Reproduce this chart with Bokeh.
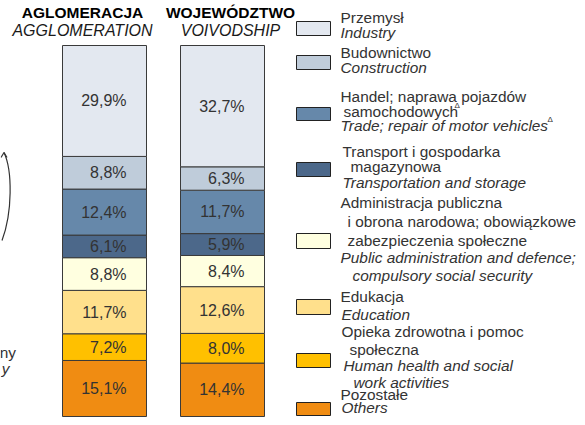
from bokeh.plotting import figure
from bokeh.models import Range1d
from bokeh.embed import file_html
from bokeh.resources import INLINE
from bokeh.core.properties import value

# ---------------- data ----------------
regions_pl = ["AGLOMERACJA", "WOJEWÓDZTWO"]
regions_en = ["AGGLOMERATION", "VOIVODSHIP"]

industry = [29.9, 32.7]
construction = [8.8, 6.3]
trade = [12.4, 11.7]
transport = [6.1, 5.9]
public_admin = [8.8, 8.4]
education = [11.7, 12.6]
health = [7.2, 8.0]
others = [15.1, 14.4]

# top-to-bottom order of the stack
series = [industry, construction, trade, transport, public_admin, education, health, others]
colors = ["#E3E8F0", "#BFCCDA", "#6688AA", "#4C688A", "#FFFFE0", "#FFE08C", "#FFC000", "#F08C12"]

legend_lines = [
    [("Przemysł", "normal", 0), ("Industry", "italic", 0)],
    [("Budownictwo", "normal", 0), ("Construction", "italic", 0)],
    [("Handel; naprawa pojazdów", "normal", 0), ("samochodowych", "normal", 3),
     ("Trade; repair of motor vehicles", "italic", 0)],
    [("Transport i gospodarka", "normal", 2), ("magazynowa", "normal", 10),
     ("Transportation and storage", "italic", 2)],
    [("Administracja publiczna", "normal", 0), ("i obrona narodowa; obowiązkowe", "normal", 7),
     ("zabezpieczenia społeczne", "normal", 7), ("Public administration and defence;", "italic", 0),
     ("compulsory social security", "italic", 12)],
    [("Edukacja", "normal", 0), ("Education", "italic", 1)],
    [("Opieka zdrowotna i pomoc", "normal", 1), ("społeczna", "normal", 9),
     ("Human health and social", "italic", 3), ("work activities", "italic", 13)],
    [("Pozostałe", "normal", 0), ("Others", "italic", 1)],
]
# ---------------- layout ----------------
W, H = 577, 417
FONT = "Liberation Sans"
BAR_TOP_PX, BAR_BOT_PX = 45.0, 416.0
SCALE = (BAR_BOT_PX - BAR_TOP_PX) / 100.0


def py(pix_y):
    return (BAR_BOT_PX - pix_y) / SCALE


p = figure(width=W, height=H, output_backend="svg", toolbar_location=None,
           x_axis_type=None, y_axis_type=None,
           x_range=Range1d(0, W), y_range=Range1d(py(H), py(0)),
           min_border=0, min_border_left=0, min_border_right=0,
           min_border_top=0, min_border_bottom=0)
p.outline_line_color = None
p.grid.visible = False
p.background_fill_color = "white"
p.border_fill_color = "white"

bar_x = [104, 222]
bar_w = 84

# stacked bars, bottom -> top
bottoms = [0.0, 0.0]
label_info = []
for vals, col in reversed(list(zip(series, colors))):
    tops = [b + v for b, v in zip(bottoms, vals)]
    p.vbar(x=bar_x, width=bar_w, bottom=bottoms, top=tops, fill_color=col,
           line_color="#3a3a3a", line_width=1)
    for i in range(2):
        label_info.append((bar_x[i] + 22, (bottoms[i] + tops[i]) / 2.0,
                           ("%.1f%%" % vals[i]).replace(".", ",")))
    bottoms = tops

p.text(x=[l[0] for l in label_info], y=[l[1] for l in label_info],
       text=[l[2] for l in label_info], text_align="right", text_baseline="middle",
       y_offset=0, text_font=value(FONT), text_font_size="16px", text_color="#333333")

# headers
hx = [82, 230]
p.text(x=hx, y=[py(12)] * 2, text=regions_pl, text_align="center", text_baseline="middle",
       text_font=value(FONT), text_font_size="15.5px", text_font_style="bold", text_color="#000000")
p.text(x=hx, y=[py(30)] * 2, text=regions_en, text_align="center", text_baseline="middle",
       text_font=value(FONT), text_font_size="16px", text_font_style="italic", text_color="#1a1a1a")

# legend
box_rows = [(21, 35), (55, 69), (107, 120), (162, 176), (233, 248), (299, 314), (353, 367), (402, 415)]
line_mid = [[17, 32], [52, 67], [96, 111, 125], [151, 166, 182],
            [202, 221, 240, 257, 275], [296, 314], [331, 349, 365, 382], [394, 407]]
for (t, b), col in zip(box_rows, colors):
    p.quad(left=296, right=330, top=py(t), bottom=py(b), fill_color=col,
           line_color="#222222", line_width=1)

for lines, mids in zip(legend_lines, line_mid):
    for (txt, style, ind), ym in zip(lines, mids):
        p.text(x=[340 + ind], y=[py(ym)], text=[txt], text_align="left",
               text_baseline="middle", text_font=value(FONT), text_font_size="15.4px",
               text_font_style=style, text_color="#333333")

# superscript deltas
p.text(x=[454, 547], y=[py(105), py(119)], text=["Δ", "Δ"], text_align="left",
       text_baseline="middle", text_font=value(FONT), text_font_size="8px", text_color="#333333")

# cropped fragments of the neighbouring chart at the left edge
p.bezier(x0=[1.5], y0=[py(240)], x1=[3.5], y1=[py(152)], cx0=[12], cy0=[py(212)],
         cx1=[12], cy1=[py(170)], line_color="#333333", line_width=1.2)
p.segment(x0=[3.5, 3.5], y0=[py(152)] * 2, x1=[0.5, 6.5], y1=[py(157), py(157)],
          line_color="#333333", line_width=1.2)
p.text(x=[15.5], y=[py(352)], text=["ny"], text_align="right", text_baseline="middle",
       text_font=value(FONT), text_font_size="15.4px", text_color="#333333")
p.text(x=[9], y=[py(368)], text=["y"], text_align="right", text_baseline="middle",
       text_font=value(FONT), text_font_size="15.4px", text_font_style="italic", text_color="#333333")

open("out.html", "w").write(file_html(p, INLINE))
